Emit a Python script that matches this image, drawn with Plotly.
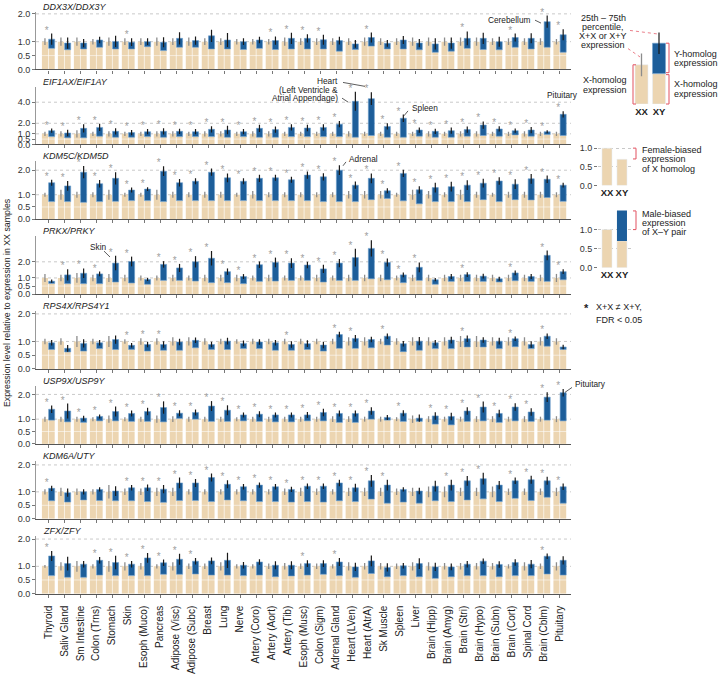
import plotly.graph_objects as go

W, H = 719, 674
FONT = "Liberation Sans, Arial, sans-serif"
TAN = "#ecd5b1"
BLUE = "#1d5e9a"
BLUE_EDGE = "#6f9fcc"
RED = "#e4606d"

tissues = ["Thyroid", "Saliv Gland", "Sm Intestine", "Colon (Trns)", "Stomach", "Skin",
           "Esoph (Muco)", "Pancreas", "Adipose (Visc)", "Adipose (Subc)", "Breast", "Lung",
           "Nerve", "Artery (Coro)", "Artery (Aort)", "Artery (Tib)", "Esoph (Musc)",
           "Colon (Sigm)", "Adrenal Gland", "Heart (LVen)", "Heart (AtrA)", "Sk Muscle",
           "Spleen", "Liver", "Brain (Hipp)", "Brain (Amyg)", "Brain (Stri)", "Brain (Hypo)",
           "Brain (Subn)", "Brain (Cort)", "Spinal Cord", "Brain (Cblm)", "Pituitary"]

# XX expression is the reference level
xx_level = 1.0

# DDX3X/DDX3Y
ddx3_x = [0.76,0.71,0.74,0.80,0.74,0.74,0.82,0.68,0.80,0.80,0.74,0.74,0.72,0.76,0.72,0.74,0.74,0.74,0.66,0.72,0.84,0.74,0.74,0.71,0.62,0.66,0.76,0.72,0.71,0.80,0.74,0.80,0.62]
ddx3_tot = [1.09,0.95,0.95,1.06,1.01,0.98,1.00,0.98,1.12,1.04,1.21,1.06,1.00,1.06,1.04,1.12,1.12,1.07,1.04,0.92,1.15,0.94,1.06,0.95,0.92,0.95,1.12,1.12,1.00,1.15,1.12,1.72,1.25]
ddx3_sig = [1,0,0,0,0,1,0,0,0,0,0,0,0,0,1,1,1,1,0,0,1,0,0,0,0,0,1,0,0,1,0,1,1]
ddx3_xxerr = [0.12,0.15,0.15,0.10,0.15,0.12,0.12,0.15,0.12,0.15,0.12,0.12,0.10,0.10,0.10,0.15,0.12,0.12,0.12,0.12,0.15,0.12,0.12,0.15,0.15,0.15,0.15,0.15,0.12,0.12,0.12,0.12,0.10]
ddx3_xyerr = [0.20,0.20,0.15,0.12,0.20,0.14,0.12,0.18,0.22,0.15,0.22,0.25,0.12,0.12,0.15,0.20,0.15,0.18,0.14,0.14,0.18,0.12,0.14,0.15,0.20,0.20,0.25,0.20,0.18,0.14,0.18,0.22,0.20]

# EIF1AX/EIF1AY
eif1a_x = [0.74,0.62,0.62,0.78,0.68,0.68,0.74,0.68,0.74,0.74,0.74,0.68,0.74,0.68,0.68,0.74,0.74,0.74,0.74,0.68,0.84,0.68,0.68,0.78,0.68,0.68,0.78,0.84,0.78,0.90,0.78,0.93,0.84]
eif1a_tot = [1.30,1.08,1.52,1.61,1.24,1.12,1.20,1.24,1.24,1.20,1.43,1.36,1.20,1.52,1.40,1.61,1.55,1.61,1.92,4.09,4.34,1.70,2.48,1.36,1.24,1.30,1.40,1.83,1.46,1.30,1.36,1.20,2.85]
eif1a_sig = [1]*33
eif1a_xxerr = [0.20,0.25,0.35,0.20,0.25,0.20,0.20,0.25,0.25,0.20,0.25,0.25,0.20,0.25,0.25,0.20,0.20,0.20,0.20,0.25,0.20,0.20,0.20,0.20,0.25,0.20,0.25,0.25,0.20,0.20,0.25,0.20,0.20]
eif1a_xyerr = [0.20,0.30,0.40,0.35,0.30,0.25,0.25,0.30,0.25,0.25,0.30,0.40,0.25,0.35,0.30,0.30,0.30,0.30,0.30,0.90,0.60,0.30,0.35,0.25,0.25,0.30,0.30,0.35,0.25,0.20,0.30,0.15,0.30]

# KDM5C/KDM5D
kdm5_x = [0.72,0.72,0.69,0.72,0.73,0.76,0.76,0.72,0.76,0.76,0.76,0.76,0.76,0.76,0.76,0.76,0.76,0.72,0.72,0.72,0.80,0.85,0.75,0.63,0.72,0.72,0.72,0.80,0.72,0.80,0.79,0.89,0.73]
kdm5_tot = [1.49,1.36,1.92,1.45,1.67,1.19,1.23,1.96,1.49,1.55,1.92,1.69,1.55,1.67,1.69,1.61,1.80,1.73,2.00,1.39,1.67,1.16,1.87,1.20,1.29,1.33,1.39,1.47,1.56,1.43,1.65,1.63,1.39]
kdm5_sig = [1]*33
kdm5_xxerr = [0.08,0.20,0.12,0.10,0.20,0.08,0.08,0.20,0.12,0.10,0.12,0.12,0.08,0.15,0.10,0.10,0.10,0.10,0.10,0.15,0.15,0.15,0.08,0.20,0.15,0.10,0.20,0.12,0.08,0.12,0.12,0.12,0.10]
kdm5_xyerr = [0.12,0.20,0.25,0.15,0.25,0.10,0.08,0.20,0.15,0.12,0.15,0.18,0.12,0.15,0.12,0.12,0.15,0.15,0.20,0.15,0.20,0.10,0.15,0.15,0.20,0.20,0.20,0.18,0.15,0.20,0.20,0.15,0.10]

# PRKX/PRKY
prkx_x = [0.66,0.65,0.65,0.65,0.75,0.69,0.61,0.85,0.85,0.81,0.71,0.71,0.65,0.79,0.81,0.85,0.85,0.75,0.85,0.85,0.95,0.89,0.71,0.85,0.61,0.79,0.79,0.79,0.75,0.83,0.79,0.79,0.89]
prkx_tot = [0.80,1.19,1.29,1.25,1.92,2.02,0.91,1.84,1.62,2.00,2.22,1.39,1.09,1.82,1.96,1.92,1.80,1.56,1.92,2.26,2.83,1.96,1.19,1.66,0.89,1.09,1.21,1.11,0.95,1.31,1.09,2.40,1.39]
prkx_sig = [0,1,1,1,1,1,0,1,1,1,1,1,1,1,1,1,1,1,1,1,1,1,1,1,0,0,1,0,0,1,0,1,1]
prkx_xxerr = [0.25,0.20,0.30,0.20,0.25,0.20,0.15,0.15,0.20,0.15,0.20,0.20,0.20,0.15,0.20,0.15,0.15,0.20,0.15,0.20,0.20,0.20,0.15,0.20,0.20,0.20,0.20,0.20,0.20,0.20,0.20,0.20,0.25]
prkx_xyerr = [0.10,0.35,0.30,0.15,0.45,0.30,0.10,0.20,0.25,0.35,0.45,0.20,0.15,0.20,0.30,0.30,0.20,0.25,0.25,0.55,0.50,0.25,0.15,0.30,0.10,0.15,0.15,0.15,0.12,0.15,0.15,0.30,0.15]

# RPS4X/RPS4Y1
rps4_x = [0.71,0.62,0.65,0.74,0.71,0.71,0.65,0.68,0.68,0.77,0.71,0.71,0.74,0.74,0.68,0.68,0.71,0.65,0.75,0.75,0.77,0.87,0.63,0.68,0.74,0.74,0.80,0.80,0.74,0.81,0.74,0.83,0.71]
rps4_tot = [0.95,0.75,0.93,0.95,1.07,0.86,0.89,0.89,0.98,1.04,0.89,1.01,0.93,0.98,0.95,0.89,0.92,0.87,1.25,1.11,1.07,1.19,0.92,1.01,0.95,1.05,1.10,1.05,1.01,1.10,0.89,1.19,0.80]
rps4_sig = [0,0,0,0,0,1,1,1,0,0,0,0,0,0,0,1,0,0,1,1,0,1,0,0,0,0,1,0,0,1,0,1,0]
rps4_xxerr = [0.10,0.12,0.20,0.10,0.20,0.08,0.12,0.12,0.15,0.15,0.12,0.10,0.08,0.10,0.10,0.10,0.10,0.10,0.10,0.15,0.15,0.10,0.12,0.15,0.15,0.15,0.20,0.20,0.15,0.15,0.15,0.15,0.12]
rps4_xyerr = [0.10,0.12,0.15,0.10,0.15,0.08,0.10,0.12,0.12,0.10,0.10,0.12,0.10,0.10,0.10,0.12,0.12,0.12,0.10,0.12,0.10,0.10,0.10,0.15,0.10,0.12,0.12,0.10,0.12,0.08,0.12,0.10,0.08]

# USP9X/USP9Y
usp9_x = [0.96,0.89,0.87,0.93,0.93,0.91,0.91,0.89,1.03,1.00,0.91,0.91,0.93,0.91,0.89,0.89,0.93,0.93,0.87,0.87,1.00,0.96,0.91,0.91,0.80,0.77,0.91,0.93,0.87,0.93,0.91,0.96,0.93]
usp9_tot = [1.40,1.33,1.04,1.11,1.31,1.23,1.31,1.47,1.24,1.27,1.53,1.36,1.17,1.20,1.17,1.17,1.17,1.27,1.23,1.23,1.33,1.07,1.24,1.04,1.13,1.11,1.33,1.49,1.23,1.49,1.29,1.89,2.07]
usp9_sig = [1,1,1,1,1,1,1,1,1,1,1,1,1,1,1,1,1,1,1,1,1,0,1,0,1,1,1,1,1,1,1,1,1]
usp9_xxerr = [0.10,0.10,0.10,0.08,0.15,0.08,0.10,0.15,0.12,0.10,0.10,0.10,0.08,0.10,0.10,0.10,0.10,0.10,0.12,0.12,0.10,0.10,0.08,0.15,0.12,0.10,0.10,0.12,0.12,0.10,0.12,0.10,0.12]
usp9_xyerr = [0.15,0.30,0.10,0.08,0.20,0.12,0.15,0.25,0.12,0.12,0.20,0.20,0.10,0.12,0.10,0.10,0.12,0.15,0.12,0.12,0.15,0.10,0.12,0.15,0.15,0.15,0.15,0.22,0.15,0.15,0.15,0.20,0.15]

# KDM6A/UTY
kdm6_x = [0.67,0.62,0.70,0.68,0.67,0.67,0.64,0.61,0.68,0.68,0.64,0.70,0.67,0.64,0.64,0.62,0.64,0.62,0.67,0.64,0.73,0.58,0.62,0.58,0.67,0.64,0.70,0.74,0.64,0.76,0.68,0.80,0.58]
kdm6_tot = [1.13,0.97,1.00,1.09,1.03,1.15,1.15,1.10,1.33,1.33,1.53,1.28,1.19,1.25,1.19,1.09,1.21,1.21,1.33,1.15,1.41,1.25,1.09,1.03,1.21,1.25,1.41,1.49,1.25,1.41,1.45,1.41,1.19]
kdm6_sig = [1,0,0,0,0,1,1,1,1,1,1,1,1,1,1,1,1,1,1,1,1,1,0,0,0,1,1,1,0,1,1,1,1]
kdm6_xxerr = [0.10,0.15,0.12,0.10,0.25,0.12,0.12,0.15,0.15,0.10,0.10,0.10,0.10,0.10,0.10,0.12,0.15,0.12,0.10,0.15,0.15,0.15,0.12,0.15,0.20,0.20,0.15,0.15,0.20,0.12,0.12,0.12,0.15]
kdm6_xyerr = [0.10,0.15,0.10,0.08,0.18,0.10,0.12,0.15,0.20,0.15,0.15,0.15,0.10,0.10,0.10,0.10,0.10,0.10,0.12,0.15,0.22,0.20,0.08,0.12,0.20,0.20,0.18,0.22,0.15,0.12,0.15,0.15,0.12]

# ZFX/ZFY
zfx_x = [0.66,0.60,0.60,0.68,0.66,0.66,0.66,0.71,0.71,0.72,0.68,0.68,0.66,0.68,0.62,0.65,0.68,0.71,0.66,0.60,0.74,0.62,0.66,0.62,0.56,0.62,0.66,0.66,0.62,0.66,0.66,0.72,0.68]
zfx_tot = [1.38,1.10,1.08,1.22,1.14,1.08,1.31,1.13,1.26,1.19,1.20,1.22,1.04,1.16,1.04,1.04,1.10,1.10,1.16,0.98,1.20,0.96,1.02,1.10,0.98,0.98,1.08,1.19,1.07,1.14,1.08,1.37,1.22]
zfx_sig = [1,0,0,1,1,1,1,1,1,1,0,0,0,0,0,0,1,0,1,0,0,0,0,0,0,0,0,0,0,0,0,1,0]
zfx_xxerr = [0.05,0.15,0.20,0.08,0.20,0.15,0.12,0.08,0.15,0.10,0.10,0.15,0.08,0.08,0.10,0.12,0.10,0.10,0.08,0.15,0.12,0.12,0.10,0.15,0.15,0.12,0.12,0.12,0.12,0.08,0.15,0.10,0.15]
zfx_xyerr = [0.18,0.25,0.12,0.12,0.25,0.12,0.18,0.12,0.20,0.12,0.12,0.28,0.12,0.10,0.15,0.15,0.12,0.12,0.15,0.15,0.20,0.15,0.10,0.20,0.15,0.12,0.12,0.10,0.12,0.12,0.15,0.10,0.15]

panels = [
    ("DDX3X/DDX3Y", ddx3_x, ddx3_tot, ddx3_sig, ddx3_xxerr, ddx3_xyerr, 2.08, [0, 0.5, 1, 2]),
    ("EIF1AX/EIF1AY", eif1a_x, eif1a_tot, eif1a_sig, eif1a_xxerr, eif1a_xyerr, 5.49, [0, 0.5, 1, 2, 4]),
    ("KDM5C/KDM5D", kdm5_x, kdm5_tot, kdm5_sig, kdm5_xxerr, kdm5_xyerr, 2.36, [0, 0.5, 1, 2]),
    ("PRKX/PRKY", prkx_x, prkx_tot, prkx_sig, prkx_xxerr, prkx_xyerr, 3.58, [0, 0.5, 1, 2]),
    ("RPS4X/RPS4Y1", rps4_x, rps4_tot, rps4_sig, rps4_xxerr, rps4_xyerr, 2.10, [0, 0.5, 1, 2]),
    ("USP9X/USP9Y", usp9_x, usp9_tot, usp9_sig, usp9_xxerr, usp9_xyerr, 2.34, [0, 0.5, 1, 2]),
    ("KDM6A/UTY", kdm6_x, kdm6_tot, kdm6_sig, kdm6_xxerr, kdm6_xyerr, 2.15, [0, 0.5, 1, 2]),
    ("ZFX/ZFY", zfx_x, zfx_tot, zfx_sig, zfx_xxerr, zfx_xyerr, 2.12, [0, 0.5, 1, 2]),
]

# legend schematic values
schem_xx = 1.0
schem_xy_x = 0.775
schem_xy_tot = 1.55
schem_xx_err = 0.29
schem_xy_err = 0.275
female_xy_x = 0.7
male_xy_x = 0.7
male_xy_tot = 1.5


def px(x):
    return x / W


def py(y):
    return 1 - y / H


OFF, BW = 0.21, 0.38
fig = go.Figure()
shapes, annotations = [], []
idx = list(range(len(tissues)))

for k, (name, xy_x, tot, sig, xxe, xye, ymax, ticks) in enumerate(panels):
    ax = "" if k == 0 else str(k + 1)
    xr, yr = "x" + ax, "y" + ax
    bottom = 67.8 + k * 76.35
    top = bottom - 59
    ppu = 59 / ymax

    fig.add_trace(go.Bar(x=[i - OFF for i in idx], y=[xx_level] * len(idx), width=BW,
                         marker=dict(color=TAN, line=dict(width=0)), xaxis=xr, yaxis=yr))
    fig.add_trace(go.Bar(x=[i + OFF for i in idx], y=xy_x, width=BW,
                         marker=dict(color=TAN, line=dict(width=0)), xaxis=xr, yaxis=yr))
    fig.add_trace(go.Bar(x=[i + OFF for i in idx], y=[t - b for t, b in zip(tot, xy_x)], base=xy_x,
                         width=BW, marker=dict(color=BLUE, line=dict(color=BLUE_EDGE, width=0.6)),
                         xaxis=xr, yaxis=yr))
    fig.add_trace(go.Scatter(x=[i - OFF for i in idx], y=[xx_level] * len(idx), mode="markers",
                             marker=dict(size=0.1, color="rgba(0,0,0,0)"),
                             error_y=dict(type="data", array=xxe, color="#8c8c8c", thickness=1.3, width=0),
                             xaxis=xr, yaxis=yr))
    fig.add_trace(go.Scatter(x=[i + OFF for i in idx], y=tot, mode="markers",
                             marker=dict(size=0.1, color="rgba(0,0,0,0)"),
                             error_y=dict(type="data", array=xye, color="#1a1a1a", thickness=1.2, width=0),
                             xaxis=xr, yaxis=yr))
    sx = [i - 0.1 for i, s in zip(idx, sig) if s]
    sy = [max(xx_level + a, t + b) + 2.5 / ppu for s, a, t, b in zip(sig, xxe, tot, xye) if s]
    fig.add_trace(go.Scatter(x=sx, y=sy, mode="text", text=["*"] * len(sx),
                             textfont=dict(size=10, color="#a0a0a0", family=FONT),
                             cliponaxis=False, xaxis=xr, yaxis=yr))

    fig.update_layout(**{
        "xaxis" + ax: dict(domain=[px(36), px(571)], anchor=yr, range=[-0.77, 32.7],
                           tickvals=idx, ticktext=tissues, showticklabels=(k == 7), tickangle=-90,
                           ticks="outside", ticklen=3, tickcolor="#777", showline=True,
                           linecolor="#555", linewidth=1.2, showgrid=False, zeroline=False,
                           ticklabelstandoff=4,
                           tickfont=dict(size=10, color="#222", family=FONT)),
        "yaxis" + ax: dict(domain=[py(bottom), py(top)], anchor=xr, range=[0, ymax],
                           tickvals=ticks, ticktext=[f"{t:.1f}" for t in ticks], ticks="outside",
                           ticklen=3, tickcolor="#777", showline=True, linecolor="#999",
                           linewidth=0.8, showgrid=False, zeroline=False,
                           tickfont=dict(size=9, color="#333", family=FONT)),
    })
    for g in [t for t in ticks if t >= 1]:
        shapes.append(dict(type="line", xref=xr + " domain", yref=yr, x0=0, x1=1, y0=g, y1=g,
                           line=dict(color="#bbbbbb", width=0.8, dash="dot"), layer="below"))
    shapes.append(dict(type="line", xref=xr + " domain", yref=yr, x0=0, x1=1, y0=0.5, y1=0.5,
                       line=dict(color="rgba(255,255,255,0.55)", width=1), layer="above"))
    annotations.append(dict(x=px(41), y=py(top - 5), xref="paper", yref="paper",
                            text=f"<i>{name}</i>", showarrow=False, xanchor="left", yanchor="middle",
                            font=dict(size=9, color="#222", family=FONT)))

# y-axis title
annotations.append(dict(x=px(7), y=py(306), xref="paper", yref="paper", textangle=-90,
                        xanchor="center", yanchor="middle",
                        text="Expression level relative to expression in XX samples",
                        showarrow=False, font=dict(size=8.8, color="#222", family=FONT)))


def label(x, y, text, anchor="left", size=9, color="#222"):
    annotations.append(dict(x=px(x), y=py(y), xref="paper", yref="paper", text=text,
                            showarrow=False, xanchor=anchor, yanchor="middle",
                            font=dict(size=size, color=color, family=FONT)))


def seg(x0, y0, x1, y1, color="#333", width=0.8, dash=None):
    shapes.append(dict(type="line", xref="paper", yref="paper", x0=px(x0), y0=py(y0),
                       x1=px(x1), y1=py(y1), line=dict(color=color, width=width, dash=dash)))


# call-outs inside the panels
CS = 8.3
label(533, 17, "Cerebellum", "right", CS); seg(535, 17.5, 541, 20.5)
label(340, 80, "Heart", "right", CS); label(340, 88.5, "(Left Ventricle &", "right", CS)
label(340, 97, "Atrial Appendage)", "right", CS)
seg(343, 81, 365, 85); seg(342, 97, 348, 101)
label(410, 107, "Spleen", size=CS); seg(408, 110, 404, 115)
label(545, 94, "Pituitary", size=CS)
label(347, 159, "Adrenal", size=CS); seg(346, 162, 343, 166)
label(88, 249, "Skin", size=CS); seg(104, 253, 110, 259)
label(573, 389, "Pituitary", size=CS); seg(572, 392, 565, 397)

# legend: schematic
lx, ly = "x9", "y9"
fig.add_trace(go.Bar(x=[0, 1], y=[schem_xx, schem_xy_x], width=0.74, marker=dict(color=TAN),
                     xaxis=lx, yaxis=ly))
fig.add_trace(go.Bar(x=[1], y=[schem_xy_tot - schem_xy_x], base=[schem_xy_x], width=0.74,
                     marker=dict(color=BLUE, line=dict(color=BLUE_EDGE, width=0.6)), xaxis=lx, yaxis=ly))
fig.add_trace(go.Scatter(x=[0], y=[schem_xx], mode="markers", marker=dict(size=0.1, color="rgba(0,0,0,0)"),
                         error_y=dict(type="data", array=[schem_xx_err], color="#8c8c8c", thickness=1.3, width=0),
                         xaxis=lx, yaxis=ly))
fig.add_trace(go.Scatter(x=[1], y=[schem_xy_tot], mode="markers", marker=dict(size=0.1, color="rgba(0,0,0,0)"),
                         error_y=dict(type="data", array=[schem_xy_err], color="#1a1a1a", thickness=1.2, width=0),
                         xaxis=lx, yaxis=ly))

# legend: female-biased / male-biased minis
fig.add_trace(go.Bar(x=[0, 1], y=[xx_level, female_xy_x], width=0.67, marker=dict(color=TAN),
                     xaxis="x10", yaxis="y10"))
fig.add_trace(go.Bar(x=[0, 1], y=[xx_level, male_xy_x], width=0.67, marker=dict(color=TAN),
                     xaxis="x11", yaxis="y11"))
fig.add_trace(go.Bar(x=[1], y=[male_xy_tot - male_xy_x], base=[male_xy_x], width=0.67,
                     marker=dict(color=BLUE, line=dict(width=0)), xaxis="x11", yaxis="y11"))

xxxy = dict(tickvals=[0, 1], ticktext=["<b>XX</b>", "<b>XY</b>"], ticks="", showline=False,
            tickangle=0, showgrid=False, zeroline=False,
            tickfont=dict(size=9.5, color="#222", family=FONT))
mini_y = dict(tickvals=[0, 0.5, 1], ticktext=["0.0", "0.5", "1.0"], ticks="outside", ticklen=3,
              tickcolor="#777", showline=False, showgrid=True, gridcolor="#c8c8c8", griddash="dot",
              gridwidth=0.8, zeroline=False, tickfont=dict(size=9, color="#333", family=FONT))
fig.update_layout(
    xaxis9=dict(domain=[px(606.5), px(676.5)], range=[-2, 2], anchor="y9", **xxxy),
    yaxis9=dict(domain=[py(103), py(20)], range=[0, 2.075], anchor="x9", visible=False),
    xaxis10=dict(domain=[px(598), px(632)], range=[-0.6, 1.67], anchor="y10", **xxxy),
    yaxis10=dict(domain=[py(186), py(140)], range=[0, 1.21], anchor="x10", **mini_y),
    xaxis11=dict(domain=[px(598), px(632)], range=[-0.6, 1.67], anchor="y11", **xxxy),
    yaxis11=dict(domain=[py(270), py(205)], range=[0, 1.667], anchor="x11", **mini_y),
)


# legend brackets and leaders
def bracket(x, y0, y1, d):
    seg(x + d, y0, x, y0, RED, 1.1); seg(x, y0, x, y1, RED, 1.1); seg(x, y1, x + d, y1, RED, 1.1)


bracket(633, 63, 103, 3)
bracket(669, 41, 71, -3)
bracket(669, 73, 103, -3)
bracket(636, 148, 159, -3)
bracket(636, 212, 231, -3)
seg(630, 28, 657, 31.5, RED, 0.8, "dot")
seg(628, 46.5, 640, 55, RED, 0.8, "dot")

for j, t in enumerate(["25th \u2013 75th", "percentile,", "X+X or X+Y", "expression"]):
    label(603, 15 + 9.4 * j, t, "center")
label(629, 79, "X-homolog", "right"); label(629, 88.5, "expression", "right")
label(672, 52, "Y-homolog"); label(672, 61.5, "expression")
label(672, 83, "X-homolog"); label(672, 92.5, "expression")
label(640, 150, "Female-biased"); label(640, 159.5, "expression")
label(640, 169, "of X homolog")
label(640, 215, "Male-biased"); label(640, 224.5, "expression")
label(640, 234, "of X\u2013Y pair")
label(586, 311, "<b>*</b>", "center", 11)
label(594, 310, "X+X \u2260 X+Y,")
label(594, 323, "FDR < 0.05")

fig.update_layout(
    width=W, height=H, margin=dict(l=0, r=0, t=0, b=0),
    paper_bgcolor="white", plot_bgcolor="white",
    barmode="overlay", showlegend=False,
    font=dict(family=FONT, size=10, color="#222"),
    shapes=shapes, annotations=annotations,
)

# the page's default body margin would push the figure 8px off the window origin
fig.write_html("out.html", config={"displayModeBar": False},
               post_script="document.body.style.margin='0';")
